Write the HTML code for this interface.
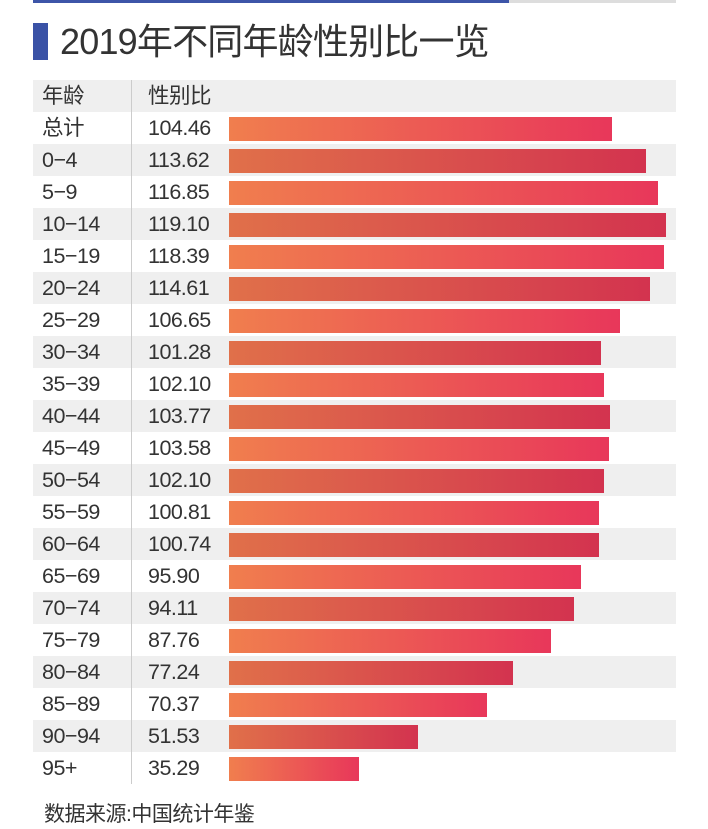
<!DOCTYPE html><html><head><meta charset="utf-8"><style>
body{margin:0;width:708px;height:828px;background:#fff;position:relative;overflow:hidden;font-family:"Liberation Sans","Noto Sans CJK SC",sans-serif;color:#333}
.a{position:absolute}
.row{position:absolute;left:33px;width:643px;height:32px}
.row span{position:absolute;top:0;line-height:32px;font-size:21.5px;letter-spacing:-0.5px}
.bar{position:absolute;left:196px;top:5px;height:24px}
.w .bar{background:linear-gradient(90deg,#f07e4e,#e8375a)}
.g{background:#efefef}
.g .bar{background:linear-gradient(90deg,#e0704a,#d3334f)}
</style></head><body>
<div class="a" style="left:33px;top:0;width:476px;height:3px;background:#3d55a8"></div>
<div class="a" style="left:509px;top:0;width:167px;height:3px;background:#ddd"></div>
<div class="a" style="left:33px;top:23px;width:15px;height:37px;background:#3a52a6"></div>
<div class="a" style="left:60px;top:19px;font-size:36px;line-height:46px;letter-spacing:-0.8px;color:#333">2019年不同年龄性别比一览</div>
<div class="row g" style="top:80px"><span style="left:9px">年龄</span><span style="left:115px">性别比</span></div>
<div id="rows"></div>
<div class="a" style="left:131px;top:80px;width:1px;height:704px;background:#ccc"></div>
<div class="a" style="left:44px;top:801px;font-size:21px;line-height:28px;letter-spacing:-0.5px">数据来源:中国统计年鉴</div>
<script>
var d=[["总计",104.46],["0-4",113.62],["5-9",116.85],["10-14",119.10],["15-19",118.39],["20-24",114.61],["25-29",106.65],["30-34",101.28],["35-39",102.10],["40-44",103.77],["45-49",103.58],["50-54",102.10],["55-59",100.81],["60-64",100.74],["65-69",95.90],["70-74",94.11],["75-79",87.76],["80-84",77.24],["85-89",70.37],["90-94",51.53],["95+",35.29]];
var h="";d.forEach(function(r,i){h+='<div class="row '+(i%2?'g':'w')+'" style="top:'+(112+i*32)+'px"><span style="left:9px">'+r[0].replace('-','−')+'</span><span style="left:115px">'+r[1].toFixed(2)+'</span><div class="bar" style="width:'+(r[1]*3.67).toFixed(1)+'px"></div></div>';});
document.getElementById("rows").outerHTML=h;
</script>
</body></html>
